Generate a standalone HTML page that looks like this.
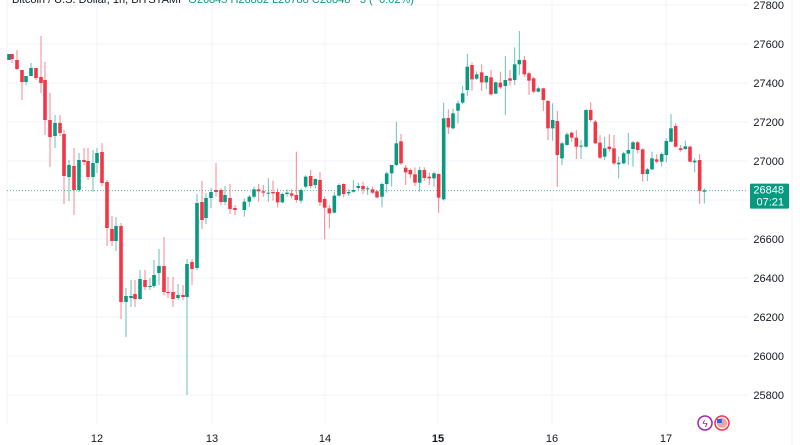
<!DOCTYPE html>
<html><head><meta charset="utf-8"><style>
html,body{margin:0;padding:0;background:#fff;width:800px;height:445px;overflow:hidden}
svg{display:block}
text{font-family:"Liberation Sans",sans-serif}
</style></head><body>
<svg id="s" width="800" height="445" xmlns="http://www.w3.org/2000/svg"></svg>
<script>
var s=document.getElementById('s');var h='';
function Y(p){return 161+(27000-p)*0.195;}
// grid
[27800,27600,27400,27200,27000,26800,26600,26400,26200,26000,25800].forEach(function(p){var y=Y(p);
h+='<line x1="7" x2="748" y1="'+y+'" y2="'+y+'" stroke="#f0f3fa" stroke-width="1"/>';
if(p!=26800)h+='<text x="784" y="'+(y+4)+'" font-size="11" fill="#131722" text-anchor="end">'+p+'</text>';});
[7,97,212,325,438,552,666].forEach(function(x){h+='<line x1="'+x+'" x2="'+x+'" y1="0" y2="425" stroke="#f0f3fa"/>';});
h+='<line x1="792" x2="792" y1="0" y2="445" stroke="#f0f3fa"/>';
// candles
var C=[];
function add(x,o,c,hi,lo){C.push([x,o,c,hi,lo]);}
var z4=[[9,60,54,54,60],[12,54,59,54,63],[17,60,69,50,70],[22,70,82,70,100],[26,82,76,76,85],[31,76,68,63,76],[36,68,78,68,80],[41,77,83,36,93],[45,80,120,62,135],[50,120,137,93,167],[55,136,123,115,148],[60,123,133,115,136],[64,134,176,130,204],[69,177,165,160,201],[74,166,190,148,215],[79,190,160,153,192],[84,160,162,148,165],[88,161,177,148,180],[93,177,163,150,192],[97,163,153,148,173],[102,152,183,143,186],[107,182,228,180,246],[112,229,241,216,246],[116,241,226,217,251],[121,226,302,223,319],[126,302,296,288,337],[131,298,296,280,307],[135,294,299,280,307],[140,299,279,270,300],[145,280,287,270,290],[150,287,286,278,290],[154,286,275,260,288],[159,273,266,249,285],[164,266,292,237,295],[168,292,293,277,298],[173,292,299,277,307],[178,298,295,284,300],[183,295,297,285,300],[187,297,264,259,395],[192,262,269,259,285],[197,268,203,194,270],[202,202,220,181,229],[206,218,198,193,224],[211,198,192,188,208],[216,190,192,163,197],[221,190,202,188,205],[225,202,195,186,205],[230,198,209,184,214],[235,208,210,205,215]];
z4.forEach(function(a){add(a[0],a[1],a[2],a[3],a[4]);});
function addZ(ox,oy,arr){arr.forEach(function(a){var o=a[1]/3+oy,c=a[2]/3+oy;var hi=a[3]!=null?a[3]/3+oy:Math.min(o,c)-3;var lo=a[4]!=null?a[4]/3+oy:Math.max(o,c)+4;add(ox+a[0]/3,o,c,hi,lo);});}
addZ(240,30,[[13,540,515,505,560],[28,515,500,495,530],[42,500,478,470,505],[56,478,484,462,515],[70,484,488,465,500],[85,490,488,445,515],[99,486,490,452,512],[113,486,517,475,532],[127,517,492,488,520],[141,492,488,478,500],[155,490,497,478,505],[169,495,510,365,518],[183,512,480,475,520],[197,470,440,436,475],[212,438,468,420,475],[226,465,447,445,475],[240,450,517,426,528],[254,507,533,500,628],[268,535,550,525,595],[283,548,497,485,550],[297,497,465,460,500],[311,462,492,460,502],[326,490,486,478,498],[340,485,480,450,488],[355,474,468,458,480],[369,468,478,455,492],[383,477,475,468,495],[398,478,488,470,492],[411,484,502,480,505],[426,500,462,458,532],[440,462,430,425,488],[455,430,405,405,470],[469,405,340,275,408],[483,334,400,312,405],[497,413,427,405,465],[511,420,433,415,445],[525,433,458,412,468],[539,458,420,410,485],[553,420,444,412,452],[568,440,445,428,465],[582,445,430,425,470],[596,432,503,430,548],[611,508,265,218,512],[625,264,292,238,312],[639,295,250,236,298],[654,242,220,212,280],[668,218,190,167,222],[682,180,110,72,198],[696,105,148,98,182],[710,146,133,125,150]]);
addZ(480,25,[[5,142,172,118,198],[19,172,153,150,192],[33,157,208,135,212],[47,206,172,170,208],[61,173,187,140,192],[76,183,165,93,270],[90,160,167,135,182],[104,165,118,67,180],[118,118,105,18,150],[133,105,148,93,155],[147,145,167,140,210],[161,160,200,155,205],[175,200,190,185,202],[190,190,225,188,258],[204,228,310,225,345],[218,310,285,235,347],[232,288,390,258,485],[246,400,355,350,420],[261,360,328,322,362],[275,323,338,320,350],[289,338,365,315,402],[303,365,362,345,402],[318,365,255,252,368],[332,255,285,232,290],[346,290,355,285,358],[360,353,398,330,402],[374,395,370,335,405],[388,365,372,328,380],[402,370,415,330,420],[416,418,413,395,460],[431,415,385,380,418],[445,386,375,324,420],[459,372,352,348,425],[473,352,375,348,385],[488,373,447,370,470],[502,447,433,428,468],[516,433,400,380,435],[530,403,410,388,415],[545,410,387,382,425],[559,390,348,340,412],[573,350,310,267,352],[587,303,365,295,368],[602,370,375,360,380],[616,372,364,347,375],[630,365,410,362,412],[644,412,407,400,442],[659,405,497,387,537],[673,500,496,490,535]]);
C.forEach(function(a){var x=a[0],o=a[1],c=a[2];var up=c<o;var col=up?'#089981':'#f23645';var t=Math.min(o,c),b=Math.max(o,c);if(b-t<1){b=t+1;}
h+='<line x1="'+x+'" x2="'+x+'" y1="'+a[3]+'" y2="'+a[4]+'" stroke="'+col+'" stroke-opacity="0.6" stroke-width="1"/>';
h+='<rect x="'+(x-1.8)+'" y="'+t+'" width="3.6" height="'+(b-t)+'" fill="'+col+'"/>';});
// current price line
var py=Y(26848);
h+='<line x1="7" x2="748" y1="'+py+'" y2="'+py+'" stroke="#089981" stroke-dasharray="1,2" stroke-opacity="0.7"/>';
h+='<rect x="750" y="'+(py-7)+'" width="39" height="25" rx="1" fill="#089981"/>';
h+='<text x="784" y="'+(py+3)+'" font-size="11" fill="#fff" text-anchor="end">26848</text>';
h+='<text x="784" y="'+(py+15)+'" font-size="11" fill="#fff" text-anchor="end">07:21</text>';
// date labels
[[97,'12'],[212,'13'],[325,'14'],[438,'15'],[552,'16'],[666,'17']].forEach(function(d){h+='<text x="'+d[0]+'" y="442" font-size="11" fill="#131722" text-anchor="middle"'+(d[1]=='15'?' font-weight="bold"':'')+'>'+d[1]+'</text>';});
// top header (cut off)
h+='<text x="12" y="3" font-size="11" fill="#131722">Bitcoin / U.S. Dollar, 1h, BITSTAMP <tspan fill="#089981">O26845 H26882 L26788 C26848 −3 (−0.02%)</tspan></text>';
// icons
h+='<circle cx="705" cy="423" r="7" fill="#fff" stroke="#9c27b0" stroke-width="1.5"/><text x="705" y="427" font-size="10" fill="#9c27b0" text-anchor="middle">ϟ</text>';
h+='<circle cx="722" cy="423" r="7" fill="#fff" stroke="#f23645" stroke-width="1.5"/><circle cx="722" cy="423" r="5" fill="#f7a0a8"/><rect x="717" y="419" width="5" height="4" fill="#2962ff"/>';
s.innerHTML=h;
</script>
</body></html>
